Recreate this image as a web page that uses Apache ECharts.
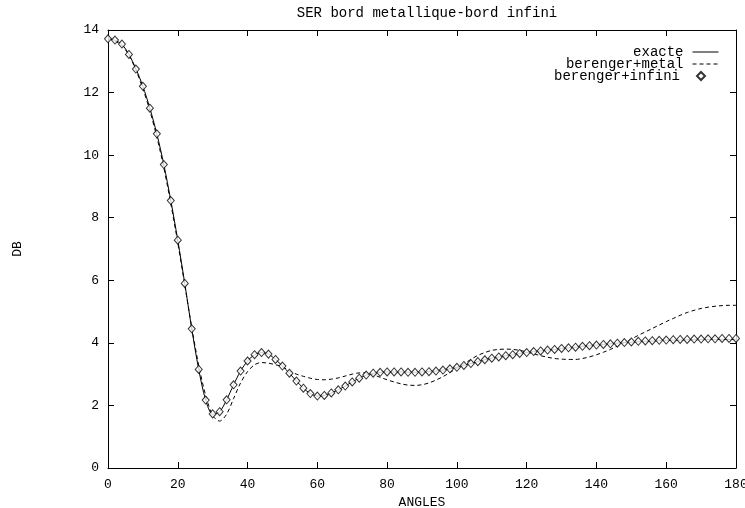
<!DOCTYPE html>
<html><head><meta charset="utf-8">
<script src="https://cdn.jsdelivr.net/npm/echarts@6/dist/echarts.min.js"></script>
<style>html,body{margin:0;padding:0;background:#fff;overflow:hidden}#c{width:745px;height:508px}</style>
</head><body><div id="c"></div>
<script>
var titleText = "SER bord metallique-bord infini";
var xName = "ANGLES";
var yName = "DB";
var angles = [];
for (var a = 0; a <= 180; a += 2) angles.push(a);

var exacte = [13.72,13.67,13.54,13.22,12.76,12.2,11.5,10.68,9.7,8.55,7.28,5.9,4.45,3.15,2.17,1.72,1.8,2.18,2.66,3.1,3.42,3.62,3.69,3.64,3.47,3.26,3.03,2.78,2.55,2.38,2.3,2.32,2.4,2.5,2.62,2.75,2.87,2.97,3.03,3.06,3.07,3.07,3.07,3.06,3.06,3.07,3.08,3.1,3.13,3.17,3.22,3.28,3.34,3.4,3.46,3.51,3.55,3.59,3.62,3.66,3.69,3.72,3.74,3.77,3.79,3.82,3.84,3.86,3.89,3.91,3.93,3.95,3.97,3.99,4.01,4.02,4.04,4.05,4.06,4.07,4.08,4.09,4.09,4.1,4.1,4.1,4.11,4.11,4.11,4.11,4.11];

var metal = [13.72,13.65,13.5,13.2,12.72,12.12,11.42,10.58,9.6,8.45,7.2,5.85,4.5,3.28,2.32,1.68,1.5,1.72,2.22,2.72,3.08,3.3,3.37,3.35,3.3,3.24,3.1,3.0,2.93,2.87,2.83,2.82,2.84,2.88,2.94,3.0,3.04,3.04,2.98,2.9,2.82,2.75,2.69,2.65,2.64,2.66,2.72,2.81,2.92,3.05,3.19,3.33,3.47,3.6,3.69,3.76,3.79,3.8,3.79,3.76,3.71,3.65,3.59,3.54,3.5,3.48,3.47,3.47,3.5,3.55,3.62,3.7,3.79,3.9,4.01,4.12,4.24,4.35,4.46,4.57,4.68,4.78,4.88,4.97,5.04,5.1,5.14,5.17,5.19,5.2,5.2];

var infini = [13.72,13.68,13.55,13.22,12.75,12.2,11.5,10.68,9.7,8.55,7.28,5.9,4.45,3.15,2.17,1.73,1.8,2.18,2.66,3.1,3.42,3.62,3.69,3.64,3.47,3.26,3.03,2.78,2.55,2.38,2.3,2.32,2.4,2.5,2.62,2.75,2.87,2.97,3.03,3.06,3.07,3.07,3.07,3.06,3.06,3.07,3.08,3.1,3.13,3.17,3.22,3.28,3.34,3.4,3.46,3.51,3.55,3.59,3.62,3.66,3.69,3.72,3.74,3.77,3.79,3.82,3.84,3.86,3.89,3.91,3.93,3.95,3.97,3.99,4.01,4.03,4.05,4.06,4.07,4.08,4.09,4.1,4.11,4.11,4.12,4.12,4.13,4.13,4.14,4.14,4.14];

var seriesNames = ["exacte", "berenger+metal", "berenger+infini"];

function pairs(vals) { return vals.map(function (v, i) { return [angles[i], v]; }); }

var FONT = "Liberation Mono";
var chart = echarts.init(document.getElementById('c'));
var tickLine = { show: true, inside: true, length: 6, lineStyle: { color: '#000', width: 1 } };
var axLine = { show: true, onZero: false, lineStyle: { color: '#000', width: 1 } };
var lblStyle = { color: '#000', fontFamily: FONT, fontSize: 13 };

function legendFor(name, top, right, iw, textPadRight, dataExtra) {
  var d = { name: name };
  for (var k in dataExtra) d[k] = dataExtra[k];
  return {
    data: [d], right: right, top: top, orient: 'vertical', align: 'right',
    itemWidth: iw, itemHeight: 8, itemGap: 2, padding: 0,
    lineStyle: { width: 1 },
    textStyle: { color: '#000', fontFamily: FONT, fontSize: 14, padding: [0, textPadRight, 0, 0] },
    selectedMode: false
  };
}

chart.setOption({
  animation: false,
  backgroundColor: '#fff',
  title: {
    text: titleText, left: 422, top: 1, textAlign: 'center',
    textStyle: { color: '#000', fontFamily: FONT, fontSize: 14, fontWeight: 'normal' }
  },
  legend: [
    legendFor(seriesNames[0], 45, 26, 26, 4, { itemStyle: { opacity: 0 } }),
    legendFor(seriesNames[1], 57, 26, 26, 4, { itemStyle: { opacity: 0 } }),
    legendFor(seriesNames[2], 69, 39, 8, 12, {})
  ],
  grid: { left: 108, right: 9, top: 30, bottom: 40, containLabel: false, outerBoundsMode: 'none' },
  xAxis: [{
    type: 'value', min: 0, max: 180, interval: 20, position: 'bottom',
    name: xName, nameLocation: 'middle', nameGap: 21,
    nameTextStyle: { color: '#000', fontFamily: FONT, fontSize: 13 },
    axisLine: axLine, axisTick: tickLine, splitLine: { show: false },
    axisLabel: Object.assign({ margin: 10 }, lblStyle)
  }, {
    type: 'value', min: 0, max: 180, interval: 20, position: 'top',
    axisLine: axLine, axisTick: tickLine, splitLine: { show: false },
    axisLabel: { show: false }
  }],
  yAxis: [{
    type: 'value', min: 0, max: 14, interval: 2, position: 'left',
    name: yName, nameLocation: 'middle', nameGap: 84, nameRotate: 90,
    nameTextStyle: { color: '#000', fontFamily: FONT, fontSize: 13 },
    axisLine: axLine, axisTick: tickLine, splitLine: { show: false },
    axisLabel: Object.assign({ margin: 9 }, lblStyle)
  }, {
    type: 'value', min: 0, max: 14, interval: 2, position: 'right',
    axisLine: axLine, axisTick: tickLine, splitLine: { show: false },
    axisLabel: { show: false }
  }],
  series: [{
    name: seriesNames[0], type: 'line', data: pairs(exacte), smooth: 0.3,
    xAxisIndex: 0, yAxisIndex: 0,
    symbol: 'none', lineStyle: { color: '#000', width: 1 }, itemStyle: { color: '#000' }, z: 3
  }, {
    name: seriesNames[1], type: 'line', data: pairs(metal), smooth: 0.3,
    xAxisIndex: 1, yAxisIndex: 1,
    symbol: 'none', lineStyle: { color: '#000', width: 1, type: [4, 3] }, itemStyle: { color: '#000' }, z: 2
  }, {
    name: seriesNames[2], type: 'scatter', data: pairs(infini),
    xAxisIndex: 0, yAxisIndex: 0,
    symbol: 'diamond', symbolSize: [7, 8],
    itemStyle: { color: '#fff', borderColor: '#000', borderWidth: 1 }, z: 4
  }]
});
</script>
</body></html>
